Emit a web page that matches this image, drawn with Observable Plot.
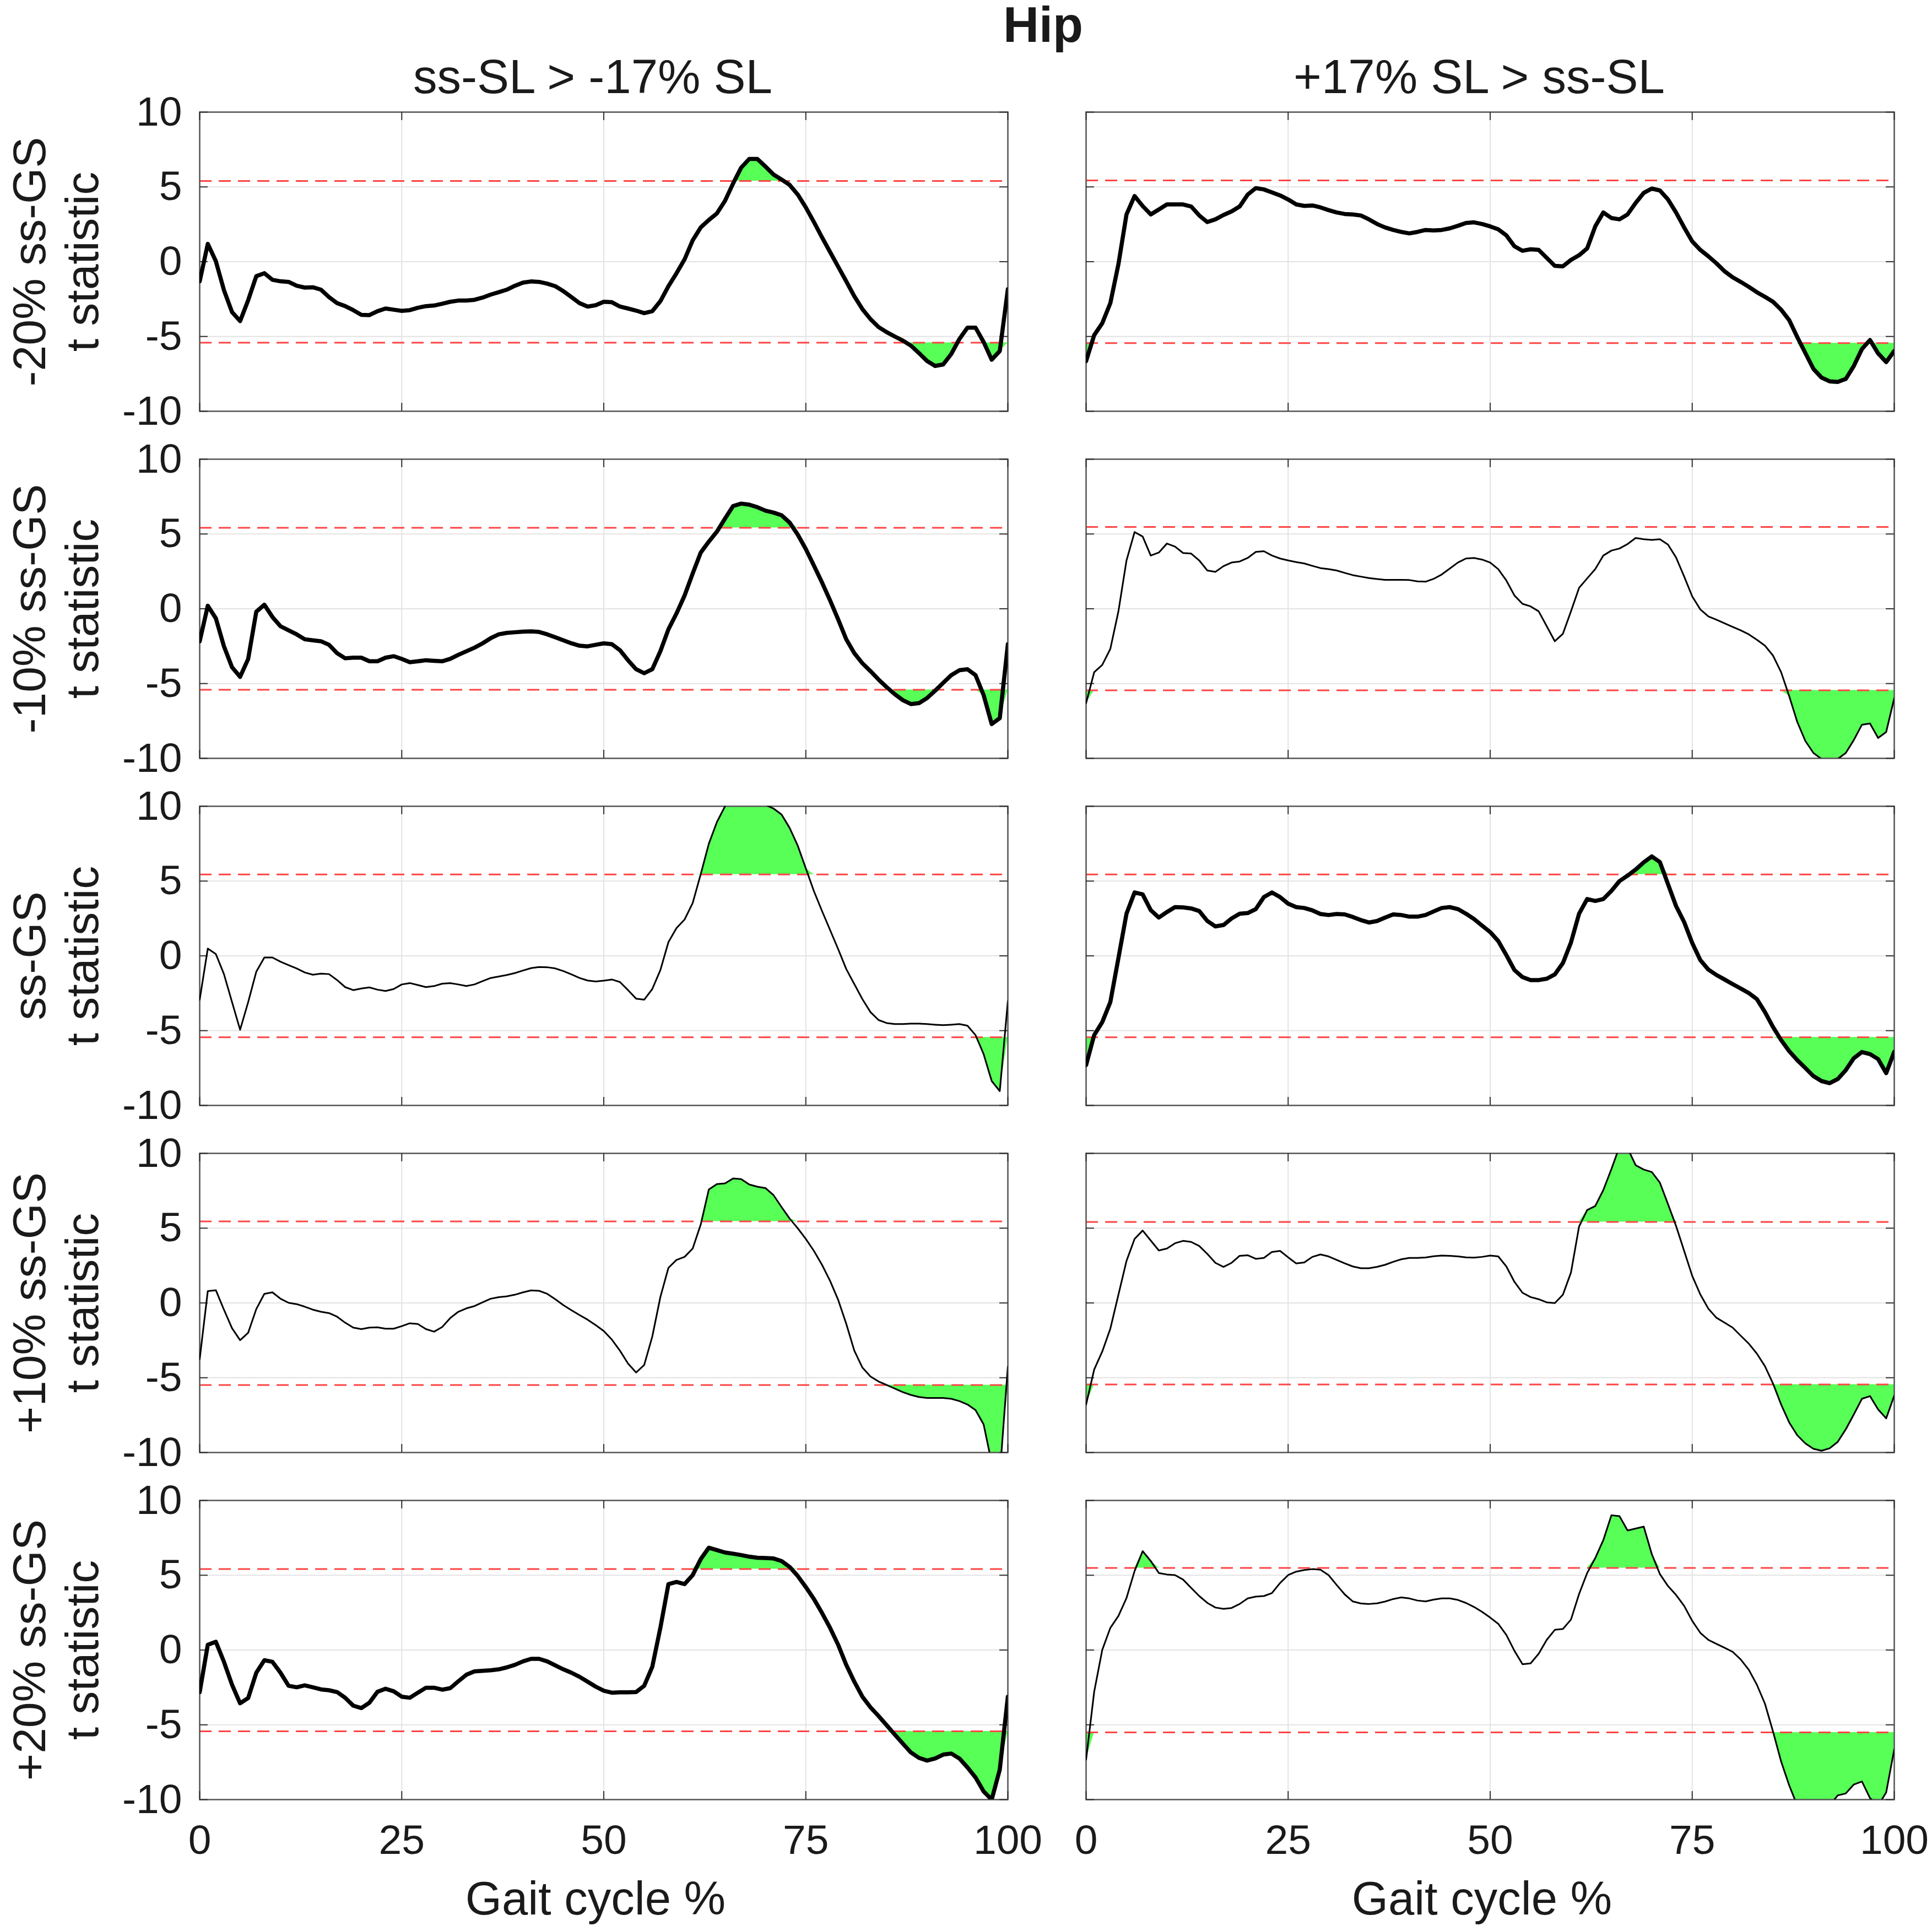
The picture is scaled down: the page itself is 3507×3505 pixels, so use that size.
<!DOCTYPE html>
<html>
<head>
<meta charset="utf-8">
<script src="https://cdn.jsdelivr.net/npm/d3@7"></script>
<script src="https://cdn.jsdelivr.net/npm/@observablehq/plot@0.6"></script>
<style>
  html, body { margin: 0; padding: 0; background: #fff; }
  #wrap { width: 3507px; font-family: "Liberation Sans", Arial, Helvetica, sans-serif; color: #1a1a1a; }
  #title { margin-left: 355px; width: 3077px; height: 90px; line-height: 90px; font-size: 90px; font-weight: bold; text-align: center; }
  #chart svg { display: block; }
</style>
</head>
<body>
<div id="wrap">
  <div id="title">Hip</div>
  <div id="chart"></div>
</div>
<script>
// ---------- data ----------
const gaitCycle = [0,1,2,3,4,5,6,7,8,9,10,11,12,13,14,15,16,17,18,19,20,21,22,23,24,25,26,27,28,29,30,31,32,33,34,35,36,37,38,39,40,41,42,43,44,45,46,47,48,49,50,51,52,53,54,55,56,57,58,59,60,61,62,63,64,65,66,67,68,69,70,71,72,73,74,75,76,77,78,79,80,81,82,83,84,85,86,87,88,89,90,91,92,93,94,95,96,97,98,99,100];

const columnTitles = ["ss-SL > -17% SL", "+17% SL > ss-SL"];
const rowLabels = ["-20% ss-GS", "-10% ss-GS", "ss-GS", "+10% ss-GS", "+20% ss-GS"];
const yAxisLabel = "t statistic";
const xAxisLabel = "Gait cycle %";
const xTicks = [0, 25, 50, 75, 100];
const yTicks = [-10, -5, 0, 5, 10];

// t statistic curves (row = gait speed, column = step length comparison)
const t_m20_shortSL = [-1.31,1.19,0.03,-1.9,-3.37,-3.97,-2.57,-0.97,-0.77,-1.21,
 -1.31,-1.35,-1.61,-1.73,-1.71,-1.87,-2.37,-2.77,-2.97,-3.24,
 -3.55,-3.57,-3.31,-3.13,-3.21,-3.29,-3.24,-3.08,-2.97,-2.93,
 -2.81,-2.68,-2.6,-2.6,-2.55,-2.4,-2.2,-2.04,-1.87,-1.61,
 -1.4,-1.32,-1.35,-1.47,-1.64,-1.97,-2.37,-2.77,-3.0,-2.91,
 -2.68,-2.71,-3.0,-3.13,-3.27,-3.44,-3.31,-2.64,-1.64,-0.77,
 0.16,1.43,2.29,2.79,3.23,4.07,5.23,6.29,6.87,6.87,
 6.36,5.83,5.49,5.13,4.49,3.63,2.65,1.63,0.65,-0.33,
 -1.31,-2.31,-3.17,-3.84,-4.37,-4.71,-5.0,-5.27,-5.61,-6.11,
 -6.64,-6.97,-6.87,-6.17,-5.17,-4.41,-4.41,-5.37,-6.55,-5.97,
 -1.84];
const t_m20_longSL = [-6.64,-4.91,-4.11,-2.77,-0.17,3.16,4.39,3.72,3.16,3.49,
 3.83,3.83,3.83,3.69,3.09,2.65,2.83,3.12,3.36,3.69,
 4.49,4.92,4.83,4.63,4.43,4.16,3.83,3.73,3.76,3.63,
 3.45,3.29,3.19,3.16,3.09,2.83,2.52,2.29,2.12,1.99,
 1.89,1.99,2.12,2.09,2.12,2.23,2.4,2.59,2.63,2.52,
 2.36,2.16,1.76,1.03,0.73,0.83,0.79,0.25,-0.28,-0.31,
 0.12,0.43,0.89,2.36,3.29,2.92,2.83,3.16,3.93,4.6,
 4.89,4.76,4.16,3.29,2.29,1.36,0.79,0.36,-0.11,-0.64,
 -1.04,-1.35,-1.68,-2.04,-2.35,-2.68,-3.21,-3.91,-5.04,-6.11,
 -7.17,-7.75,-8.0,-8.04,-7.84,-6.97,-5.84,-5.24,-6.13,-6.71,
 -5.97];
const t_m10_shortSL = [-2.17,0.2,-0.64,-2.51,-3.91,-4.55,-3.35,-0.2,0.27,-0.55,
 -1.17,-1.44,-1.71,-2.04,-2.11,-2.17,-2.41,-2.97,-3.31,-3.27,
 -3.27,-3.51,-3.51,-3.27,-3.17,-3.35,-3.57,-3.51,-3.44,-3.48,
 -3.51,-3.35,-3.08,-2.84,-2.6,-2.31,-1.97,-1.71,-1.61,-1.57,
 -1.53,-1.51,-1.55,-1.71,-1.91,-2.11,-2.31,-2.47,-2.51,-2.41,
 -2.31,-2.37,-2.77,-3.44,-4.04,-4.31,-4.04,-2.84,-1.37,-0.31,
 0.89,2.36,3.76,4.49,5.16,6.03,6.87,7.03,6.96,6.79,
 6.56,6.43,6.25,5.76,4.96,3.99,2.89,1.76,0.56,-0.71,
 -2.04,-2.97,-3.64,-4.17,-4.73,-5.24,-5.71,-6.11,-6.37,-6.31,
 -5.97,-5.48,-4.95,-4.44,-4.11,-4.04,-4.44,-5.77,-7.71,-7.31,
 -2.37];
const t_m10_longSL = [-6.31,-4.24,-3.75,-2.68,-0.17,3.23,5.13,4.83,3.56,3.76,
 4.36,4.16,3.73,3.69,3.23,2.56,2.47,2.85,3.09,3.16,
 3.4,3.8,3.85,3.56,3.36,3.23,3.12,3.03,2.87,2.72,
 2.65,2.56,2.4,2.25,2.15,2.05,1.99,1.93,1.93,1.93,
 1.92,1.83,1.81,2.0,2.29,2.69,3.09,3.36,3.4,3.29,
 3.09,2.65,1.89,0.89,0.33,0.16,-0.17,-1.17,-2.17,-1.67,
 -0.17,1.4,2.03,2.65,3.56,3.89,4.03,4.33,4.73,4.65,
 4.6,4.65,4.29,3.43,2.16,0.83,-0.04,-0.51,-0.73,-0.97,
 -1.21,-1.44,-1.71,-2.07,-2.47,-3.13,-4.24,-5.84,-7.57,-8.84,
 -9.64,-10.04,-10.2,-10.04,-9.64,-8.77,-7.75,-7.67,-8.64,-8.24,
 -5.97];
const t_ss_shortSL = [-2.93,0.49,0.12,-1.22,-3.09,-4.94,-3.09,-1.06,-0.11,-0.11,
 -0.39,-0.62,-0.84,-1.11,-1.26,-1.19,-1.22,-1.62,-2.09,-2.29,
 -2.18,-2.11,-2.26,-2.35,-2.22,-1.91,-1.82,-1.95,-2.09,-2.02,
 -1.86,-1.82,-1.91,-2.02,-1.91,-1.69,-1.48,-1.38,-1.28,-1.15,
 -0.98,-0.82,-0.75,-0.76,-0.84,-1.02,-1.24,-1.48,-1.65,-1.71,
 -1.66,-1.58,-1.75,-2.29,-2.86,-2.93,-2.22,-0.95,0.92,1.86,
 2.43,3.53,5.47,7.5,8.95,10.0,10.8,11.1,11.0,10.6,
 10.1,9.85,9.45,8.55,7.37,5.85,4.33,3.0,1.73,0.45,
 -0.88,-1.89,-2.89,-3.76,-4.29,-4.49,-4.56,-4.56,-4.53,-4.53,
 -4.56,-4.6,-4.63,-4.6,-4.56,-4.67,-5.3,-6.57,-8.37,-9.04,
 -3.02];
const t_ss_longSL = [-7.3,-5.3,-4.43,-3.09,-0.15,2.82,4.24,4.11,3.06,2.56,
 2.93,3.26,3.24,3.17,3.0,2.33,1.97,2.06,2.5,2.82,
 2.86,3.13,3.93,4.24,3.93,3.49,3.26,3.2,3.04,2.8,
 2.73,2.8,2.77,2.6,2.39,2.23,2.33,2.56,2.77,2.73,
 2.62,2.62,2.73,2.97,3.2,3.26,3.13,2.82,2.46,2.02,
 1.59,0.99,0.05,-0.95,-1.42,-1.62,-1.62,-1.53,-1.24,-0.48,
 0.9,2.82,3.8,3.67,3.8,4.34,5.0,5.36,5.77,6.25,
 6.65,6.27,4.8,3.33,2.26,0.86,-0.28,-0.92,-1.28,-1.58,
 -1.89,-2.18,-2.49,-2.89,-3.76,-4.76,-5.63,-6.37,-6.97,-7.5,
 -8.04,-8.37,-8.51,-8.24,-7.64,-6.84,-6.43,-6.57,-6.9,-7.84,
 -6.41];
const t_p10_shortSL = [-3.75,0.79,0.85,-0.45,-1.69,-2.49,-1.99,-0.41,0.61,0.71,
 0.28,0.01,-0.08,-0.25,-0.45,-0.59,-0.68,-0.92,-1.32,-1.65,
 -1.75,-1.65,-1.63,-1.72,-1.72,-1.55,-1.36,-1.41,-1.75,-1.92,
 -1.61,-1.01,-0.59,-0.36,-0.21,0.04,0.28,0.39,0.44,0.55,
 0.71,0.84,0.81,0.61,0.25,-0.15,-0.49,-0.81,-1.12,-1.48,
 -1.88,-2.45,-3.19,-4.05,-4.65,-4.15,-2.25,0.39,2.35,2.88,
 3.08,3.64,5.25,7.59,7.95,7.99,8.32,8.28,7.92,7.77,
 7.68,7.21,6.41,5.64,4.99,4.28,3.48,2.55,1.48,0.21,
 -1.39,-3.19,-4.32,-4.92,-5.25,-5.48,-5.72,-5.96,-6.15,-6.29,
 -6.35,-6.35,-6.35,-6.41,-6.56,-6.79,-7.16,-8.12,-10.7,-11.5,
 -4.25];
const t_p10_longSL = [-6.79,-4.45,-3.25,-1.72,0.55,2.81,4.28,4.84,4.17,3.51,
 3.64,3.99,4.15,4.08,3.81,3.28,2.68,2.41,2.68,3.15,
 3.19,2.95,3.01,3.41,3.48,3.05,2.64,2.71,3.08,3.24,
 3.11,2.88,2.65,2.44,2.32,2.32,2.41,2.55,2.75,2.92,
 3.01,3.01,3.04,3.12,3.17,3.15,3.11,3.05,3.03,3.08,
 3.17,3.11,2.44,1.41,0.68,0.39,0.25,0.04,-0.01,0.55,
 2.04,5.11,6.21,6.48,7.55,8.95,10.45,10.35,9.21,8.92,
 8.75,8.04,6.61,5.15,3.48,1.81,0.57,-0.39,-0.99,-1.32,
 -1.65,-2.19,-2.72,-3.39,-4.23,-5.39,-6.79,-7.99,-8.85,-9.39,
 -9.75,-9.88,-9.72,-9.29,-8.45,-7.45,-6.41,-6.23,-7.12,-7.72,
 -6.19];
const t_p20_shortSL = [-2.81,0.35,0.55,-0.79,-2.32,-3.56,-3.21,-1.52,-0.68,-0.79,
 -1.52,-2.39,-2.49,-2.36,-2.49,-2.63,-2.69,-2.81,-3.19,-3.72,
 -3.88,-3.52,-2.79,-2.59,-2.76,-3.12,-3.19,-2.85,-2.52,-2.52,
 -2.65,-2.55,-2.09,-1.65,-1.43,-1.39,-1.35,-1.29,-1.16,-0.99,
 -0.76,-0.59,-0.59,-0.76,-1.03,-1.29,-1.52,-1.79,-2.12,-2.45,
 -2.72,-2.85,-2.83,-2.83,-2.81,-2.39,-1.12,1.48,4.41,4.55,
 4.41,5.01,6.08,6.84,6.68,6.52,6.44,6.35,6.24,6.17,
 6.15,6.12,5.95,5.55,4.95,4.21,3.41,2.48,1.48,0.35,
 -0.99,-2.12,-3.12,-3.83,-4.41,-5.03,-5.65,-6.25,-6.85,-7.21,
 -7.39,-7.25,-6.99,-6.92,-7.25,-7.85,-8.52,-9.45,-10.0,-7.99,
 -3.12];
const t_p20_longSL = [-7.32,-2.79,0.01,1.48,2.28,3.48,5.28,6.61,5.95,5.15,
 5.05,5.01,4.71,4.15,3.61,3.15,2.84,2.75,2.81,3.08,
 3.45,3.57,3.61,3.81,4.48,5.01,5.24,5.35,5.41,5.37,
 5.01,4.35,3.72,3.25,3.11,3.08,3.12,3.24,3.41,3.52,
 3.45,3.31,3.25,3.37,3.45,3.45,3.35,3.15,2.88,2.55,
 2.17,1.75,1.01,-0.05,-0.95,-0.89,-0.25,0.68,1.35,1.41,
 2.04,3.75,5.15,6.15,7.35,9.01,8.95,7.99,8.12,8.25,
 6.41,5.08,4.28,3.68,2.95,1.95,1.15,0.68,0.41,0.15,
 -0.12,-0.63,-1.32,-2.32,-3.59,-5.45,-7.45,-9.05,-10.4,-11.2,
 -11.6,-11.4,-10.4,-9.72,-9.59,-8.99,-8.79,-9.9,-10.4,-9.52,
 -6.63];

// critical thresholds per panel (row-major: row1 col1, row1 col2, ...)
const upperThreshold = [5.40, 5.43, 5.41, 5.47, 5.44, 5.44, 5.45, 5.41, 5.41, 5.49];
const lowerThreshold = [-5.41, -5.44, -5.41, -5.45, -5.44, -5.44, -5.49, -5.45, -5.43, -5.51];

// ---------- styles ----------
const boldPanels = [true, true, true, false, false, true, false, false, true, false];
const FONT = '"Liberation Sans", Arial, Helvetica, sans-serif';

// ---------- build tables ----------
const seriesGrid = [
  [t_m20_shortSL, t_m20_longSL],
  [t_m10_shortSL, t_m10_longSL],
  [t_ss_shortSL, t_ss_longSL],
  [t_p10_shortSL, t_p10_longSL],
  [t_p20_shortSL, t_p20_longSL]
];
const points = [];
const thresholds = [];
seriesGrid.forEach((pair, r) => {
  pair.forEach((series, c) => {
    const idx = r * 2 + c;
    const up = upperThreshold[idx], lo = lowerThreshold[idx];
    thresholds.push({row: rowLabels[r], col: columnTitles[c], up, lo});
    series.forEach((t, i) => {
      points.push({
        row: rowLabels[r], col: columnTitles[c], key: idx, bold: boldPanels[idx],
        x: gaitCycle[i], t, up, lo,
        upFill: Math.max(t, up), loFill: Math.min(t, lo)
      });
    });
  });
});
const colTitleData = columnTitles.map(c => ({col: c, row: rowLabels[0], text: c}));
const rowLabelData = rowLabels.map(r => ({col: columnTitles[0], row: r, text: r + "\n" + yAxisLabel}));
const xLabelData = columnTitles.map(c => ({col: c, row: rowLabels[rowLabels.length - 1], text: xAxisLabel}));

const tickStyle = {stroke: "#333", strokeWidth: 2};
const chart = Plot.plot({
  width: 3507,
  height: 3415,
  marginTop: 111,
  marginBottom: 237,
  marginLeft: 361,
  marginRight: 69,
  style: {fontFamily: FONT, fontSize: "74px", color: "#1a1a1a", background: "#fff", overflow: "visible"},
  x: {domain: [0, 100], axis: null},
  y: {domain: [-10, 10], axis: null},
  fx: {domain: columnTitles, paddingInner: 0.0883, paddingOuter: 0, axis: null},
  fy: {domain: rowLabels, paddingInner: 0.1375, paddingOuter: 0, axis: null},
  marks: [
    Plot.gridX(xTicks, {stroke: "#e3e3e3", strokeOpacity: 1, strokeWidth: 2}),
    Plot.gridY(yTicks, {stroke: "#e3e3e3", strokeOpacity: 1, strokeWidth: 2}),
    Plot.areaY(points, {fx: "col", fy: "row", x: "x", y1: "up", y2: "upFill", z: "key", fill: "#57ff57", clip: true}),
    Plot.areaY(points, {fx: "col", fy: "row", x: "x", y1: "lo", y2: "loFill", z: "key", fill: "#57ff57", clip: true}),
    Plot.ruleY(thresholds, {fx: "col", fy: "row", y: "up", stroke: "#ff4545", strokeWidth: 3, strokeDasharray: "22,13"}),
    Plot.ruleY(thresholds, {fx: "col", fy: "row", y: "lo", stroke: "#ff4545", strokeWidth: 3, strokeDasharray: "22,13"}),
    Plot.frame({stroke: "#555", strokeWidth: 2.5}),
    Plot.ruleY(yTicks, {y: d => d, x1: 0, x2: 1.02, ...tickStyle}),
    Plot.ruleY(yTicks, {y: d => d, x1: 98.98, x2: 100, ...tickStyle}),
    Plot.ruleX(xTicks, {x: d => d, y1: -10, y2: -9.45, ...tickStyle}),
    Plot.ruleX(xTicks, {x: d => d, y1: 9.45, y2: 10, ...tickStyle}),
    Plot.line(points.filter(d => d.bold), {fx: "col", fy: "row", x: "x", y: "t", z: "key", stroke: "#000", strokeWidth: 7.5, strokeLinejoin: "round", clip: true}),
    Plot.line(points.filter(d => !d.bold), {fx: "col", fy: "row", x: "x", y: "t", z: "key", stroke: "#000", strokeWidth: 3, strokeLinejoin: "round", clip: true}),
    Plot.axisY(yTicks, {anchor: "left", tickSize: 0, tickPadding: 32, fontSize: 75, tickFormat: d => String(d), label: null}),
    Plot.axisX(xTicks, {anchor: "bottom", tickSize: 0, tickPadding: 45, fontSize: 75, tickFormat: d => String(d), label: null}),
    Plot.text(colTitleData, {fx: "col", fy: "row", frameAnchor: "top", dx: -20, dy: -62, text: "text", fontSize: 87, textAnchor: "middle", lineAnchor: "middle"}),
    Plot.text(rowLabelData, {fx: "col", fy: "row", frameAnchor: "left", dx: -263, rotate: -90, text: "text", fontSize: 84, lineHeight: 1.14, textAnchor: "middle", lineAnchor: "middle"}),
    Plot.text(xLabelData, {fx: "col", fy: "row", frameAnchor: "bottom", dx: -15, dy: 181, text: "text", fontSize: 85, textAnchor: "middle", lineAnchor: "middle"})
  ]
});
document.getElementById("chart").appendChild(chart);
</script>
</body>
</html>
